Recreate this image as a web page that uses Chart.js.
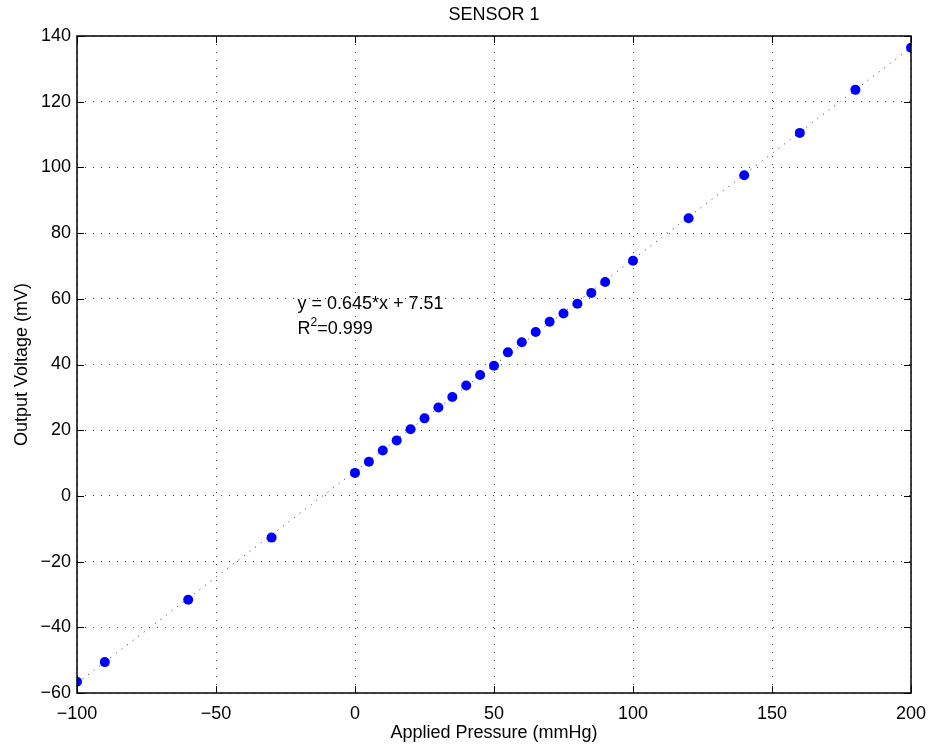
<!DOCTYPE html>
<html>
<head>
<meta charset="utf-8">
<title>SENSOR 1</title>
<script src="https://cdn.jsdelivr.net/npm/chart.js@4/dist/chart.umd.min.js"></script>
<style>
  html, body { margin: 0; padding: 0; background: #fff; }
  #wrap { width: 932px; height: 749px; }
</style>
</head>
<body>
<div id="wrap"><canvas id="chart" width="932" height="749"></canvas></div>
<script>
// measured points (applied pressure vs output voltage)
const pressure = [-100, -90, -60, -30, 0, 5, 10, 15, 20, 25, 30, 35, 40, 45, 50, 55, 60, 65, 70, 75, 80, 85, 90, 100, 120, 140, 160, 180, 200];
const voltage = [-56.6, -50.6, -31.6, -12.7, 7.0, 10.4, 13.8, 16.9, 20.3, 23.6, 26.9, 30.1, 33.6, 36.8, 39.6, 43.7, 46.8, 49.9, 53.0, 55.5, 58.5, 61.8, 65.1, 71.6, 84.5, 97.6, 110.5, 123.6, 136.4];

// linear fit line end points
const fitX = [-100, 200];
const fitY = [-57.0, 136.5];

const xTicks = [-100, -50, 0, 50, 100, 150, 200];
const yTicks = [-60, -40, -20, 0, 20, 40, 60, 80, 100, 120, 140];

const chartTitle = 'SENSOR 1';
const fitText = 'y = 0.645*x + 7.51';
const r2Text = '=0.999';

const FONT = "'Liberation Sans', Arial, Helvetica, sans-serif";
const FS = 18;

const minus = v => String(v).replace('-', '\u2212');

// white background, title, box, inward ticks and fit text
const matlabBox = {
  id: 'matlabBox',
  beforeDraw(chart) {
    const ctx = chart.ctx;
    ctx.save();
    ctx.fillStyle = '#fff';
    ctx.fillRect(0, 0, chart.width, chart.height);
    ctx.restore();
  },
  afterDraw(chart) {
    const ctx = chart.ctx;
    const a = chart.chartArea;
    const xs = chart.scales.x, ys = chart.scales.y;
    ctx.save();

    // title over the plot area
    ctx.fillStyle = '#000';
    ctx.font = FS + 'px ' + FONT;
    ctx.textAlign = 'center';
    ctx.textBaseline = 'middle';
    ctx.fillText(chartTitle, (a.left + a.right) / 2, 15);

    ctx.strokeStyle = '#000';
    ctx.lineWidth = 1.5;
    ctx.strokeRect(a.left, a.top, a.right - a.left, a.bottom - a.top);

    ctx.lineWidth = 1;
    ctx.beginPath();
    xTicks.forEach(t => {
      const px = Math.round(xs.getPixelForValue(t)) + 0.5;
      ctx.moveTo(px, a.bottom); ctx.lineTo(px, a.bottom - 7);
      ctx.moveTo(px, a.top); ctx.lineTo(px, a.top + 7);
    });
    yTicks.forEach(t => {
      const py = Math.round(ys.getPixelForValue(t)) + 0.5;
      ctx.moveTo(a.left, py); ctx.lineTo(a.left + 7, py);
      ctx.moveTo(a.right, py); ctx.lineTo(a.right - 7, py);
    });
    ctx.stroke();

    // regression text
    ctx.textBaseline = 'alphabetic';
    ctx.textAlign = 'left';
    ctx.font = FS + 'px ' + FONT;
    const tx = xs.getPixelForValue(-20.7);
    ctx.fillText(fitText, tx, ys.getPixelForValue(57));
    const by = ys.getPixelForValue(49.4);
    ctx.fillText('R', tx, by);
    const rw = ctx.measureText('R').width;
    ctx.font = '12px ' + FONT;
    ctx.fillText('2', tx + rw, by - 8);
    const sw = ctx.measureText('2').width;
    ctx.font = FS + 'px ' + FONT;
    ctx.fillText(r2Text, tx + rw + sw, by);
    ctx.restore();
  }
};

const ctx = document.getElementById('chart').getContext('2d');
new Chart(ctx, {
  type: 'scatter',
  data: {
    datasets: [
      {
        label: 'Sensor 1',
        data: pressure.map((p, i) => ({ x: p, y: voltage[i] })),
        backgroundColor: '#0000ff',
        borderWidth: 0,
        pointRadius: 5,
        pointHoverRadius: 5
      },
      {
        label: 'Fit',
        type: 'line',
        data: fitX.map((p, i) => ({ x: p, y: fitY[i] })),
        borderColor: '#333',
        borderWidth: 1,
        borderDash: [1, 6],
        pointRadius: 0,
        fill: false
      }
    ]
  },
  options: {
    responsive: false,
    animation: false,
    layout: { padding: { top: 36, right: 21, left: 0, bottom: 0 } },
    plugins: {
      legend: { display: false },
      tooltip: { enabled: false },
      title: { display: false }
    },
    scales: {
      x: {
        type: 'linear',
        min: -100,
        max: 200,
        afterBuildTicks: s => { s.ticks = xTicks.map(v => ({ value: v })); },
        afterFit: s => { s.height = 56; s.paddingLeft = 0; s.paddingRight = 0; },
        ticks: {
          color: '#000',
          font: { family: FONT, size: FS },
          padding: 10,
          maxRotation: 0,
          callback: v => minus(v)
        },
        grid: { color: '#444', lineWidth: 1, drawTicks: false },
        border: { display: false, dash: [1, 7] },
        title: {
          display: true,
          text: 'Applied Pressure (mmHg)',
          color: '#000',
          font: { family: FONT, size: FS },
          padding: { top: 0, bottom: 5 }
        }
      },
      y: {
        type: 'linear',
        min: -60,
        max: 140,
        afterBuildTicks: s => { s.ticks = yTicks.map(v => ({ value: v })); },
        afterFit: s => { s.width = 77; s.paddingTop = 0; s.paddingBottom = 0; },
        ticks: {
          color: '#000',
          font: { family: FONT, size: FS },
          padding: 6,
          callback: v => minus(v)
        },
        grid: { color: '#444', lineWidth: 1, drawTicks: false },
        border: { display: false, dash: [1, 7] },
        title: {
          display: true,
          text: 'Output Voltage (mV)',
          color: '#000',
          font: { family: FONT, size: FS },
          padding: { top: 11, bottom: 0 }
        }
      }
    }
  },
  plugins: [matlabBox]
});
</script>
</body>
</html>
